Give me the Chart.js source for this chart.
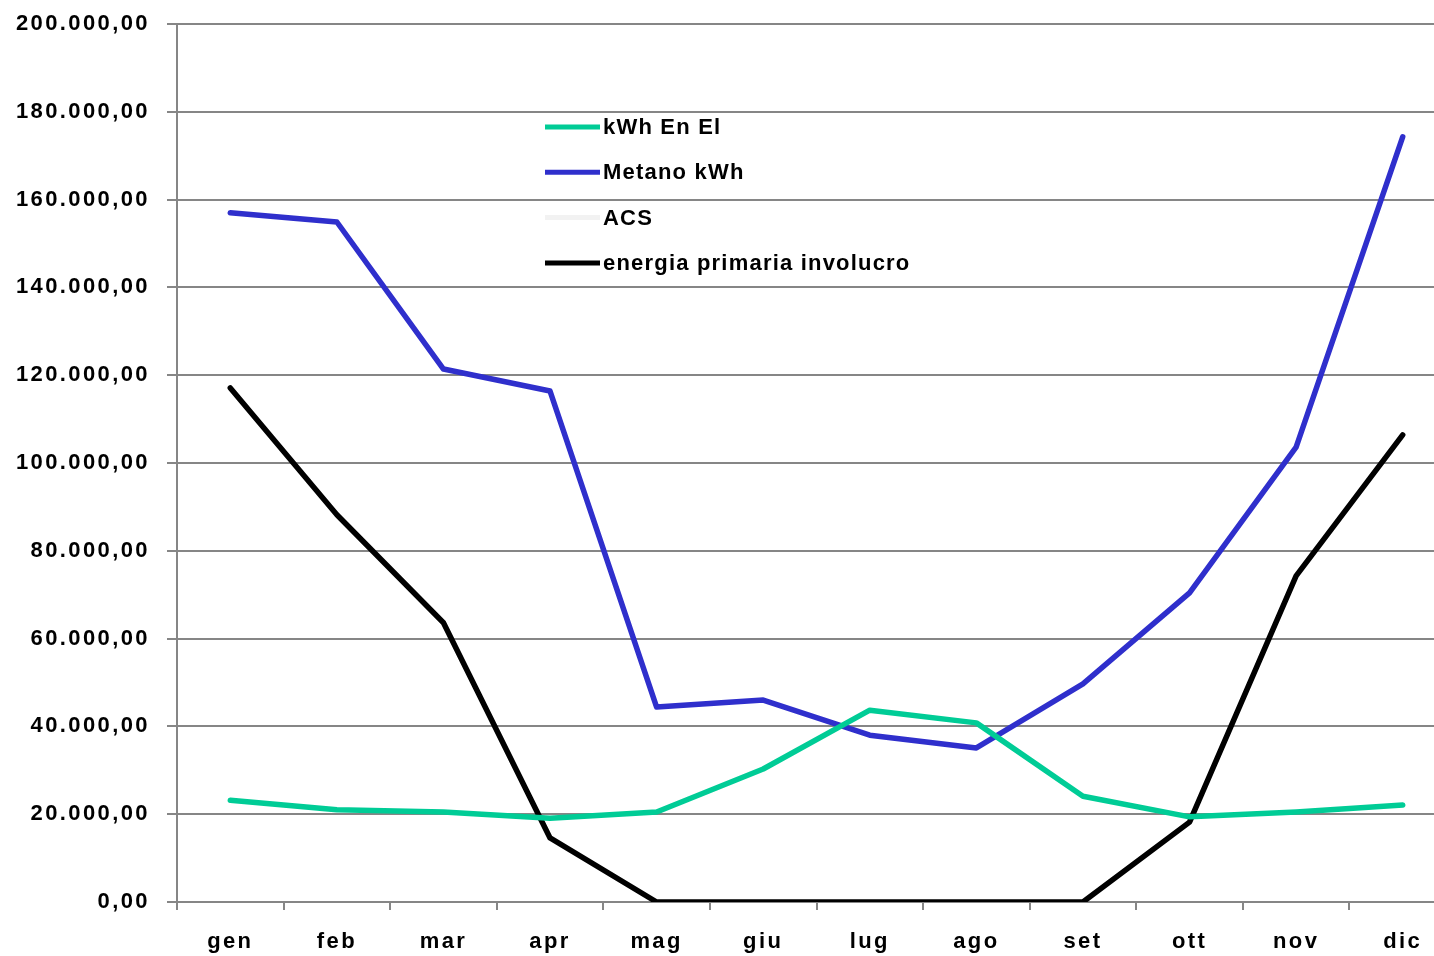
<!DOCTYPE html>
<html>
<head>
<meta charset="utf-8">
<script src="https://cdn.jsdelivr.net/npm/chart.js@4/dist/chart.umd.min.js"></script>
<style>
  html, body { margin: 0; padding: 0; background: #fff; overflow: hidden; }
  #wrap { position: relative; width: 1456px; height: 956px; }
</style>
</head>
<body>
<div id="wrap"><canvas id="chart"></canvas></div>
<script>
const months = ['gen', 'feb', 'mar', 'apr', 'mag', 'giu', 'lug', 'ago', 'set', 'ott', 'nov', 'dic'];
const kwhEnEl = [23200, 21000, 20500, 19100, 20500, 30300, 43700, 40800, 24100, 19400, 20500, 22100];
const metanoKwh = [157000, 154900, 121400, 116400, 44400, 46000, 38000, 35100, 49700, 70400, 103600, 174300];
const acs = [null, null, null, null, null, null, null, null, null, null, null, null];
const energiaPrimaria = [117100, 88200, 63600, 14600, 0, 0, 0, 0, 0, 18200, 74300, 106400];

const FONT = { family: "'Liberation Sans', Arial, sans-serif", size: 22, weight: 'bold' };

function formatIt(v) {
  const parts = Number(v).toFixed(2).split('.');
  const intPart = parts[0].replace(/\B(?=(\d{3})+(?!\d))/g, '.');
  return intPart + ',' + parts[1];
}

// the text in the original is spaced out a little
const spacingPlugin = {
  id: 'spacing',
  beforeDraw(chart) {
    chart.ctx.letterSpacing = '2.4px';
  }
};

// legend drawn inside the plot, as in the original
const innerLegend = {
  id: 'innerLegend',
  afterDatasetsDraw(chart, args, opts) {
    const ctx = chart.ctx;
    ctx.save();
    ctx.letterSpacing = '1.2px';
    ctx.font = 'bold ' + FONT.size + 'px ' + FONT.family;
    ctx.textBaseline = 'middle';
    ctx.textAlign = 'left';
    chart.data.datasets.forEach((ds, i) => {
      const y = opts.y + i * opts.rowGap;
      ctx.strokeStyle = ds.borderColor;
      ctx.lineWidth = 5;
      ctx.beginPath();
      ctx.moveTo(opts.x, y);
      ctx.lineTo(opts.x + opts.lineLen, y);
      ctx.stroke();
      ctx.fillStyle = '#000';
      ctx.fillText(ds.label, opts.x + opts.lineLen + 3, y + 1);
    });
    ctx.restore();
  }
};

new Chart(document.getElementById('chart'), {
  type: 'line',
  data: {
    labels: months,
    datasets: [
      { label: 'kWh En El', data: kwhEnEl, borderColor: '#00cc96' },
      { label: 'Metano kWh', data: metanoKwh, borderColor: '#2f2fcc' },
      { label: 'ACS', data: acs, borderColor: '#f2f2f2' },
      { label: 'energia primaria involucro', data: energiaPrimaria, borderColor: '#000000' }
    ]
  },
  options: {
    responsive: true,
    maintainAspectRatio: false,
    animation: false,
    layout: { padding: { top: 24, left: 0, right: 0, bottom: 0 } },
    elements: {
      line: { borderWidth: 5.5, tension: 0, borderCapStyle: 'round', borderJoinStyle: 'round' },
      point: { radius: 0, hoverRadius: 0 }
    },
    plugins: {
      legend: { display: false },
      tooltip: { enabled: false },
      innerLegend: { x: 545, y: 127, rowGap: 45.3, lineLen: 55 }
    },
    scales: {
      x: {
        offset: true,
        grid: { offset: true, drawOnChartArea: false, color: '#868686', lineWidth: 2, tickLength: 8 },
        border: { color: '#868686', width: 2 },
        ticks: { color: '#000', font: FONT, padding: 19, maxRotation: 0, autoSkip: false },
        afterFit(scale) { scale.height = 54; }
      },
      y: {
        min: 0,
        max: 200000,
        grid: { color: '#868686', lineWidth: 2, tickLength: 10 },
        border: { color: '#868686', width: 2 },
        ticks: {
          stepSize: 20000,
          color: '#000',
          font: FONT,
          padding: 17,
          callback: (v) => formatIt(v)
        },
        afterFit(scale) {
          scale.width = 177;
          scale.paddingTop = 0;
          scale.paddingBottom = 0;
        }
      }
    }
  },
  plugins: [spacingPlugin, innerLegend]
});
</script>
</body>
</html>
